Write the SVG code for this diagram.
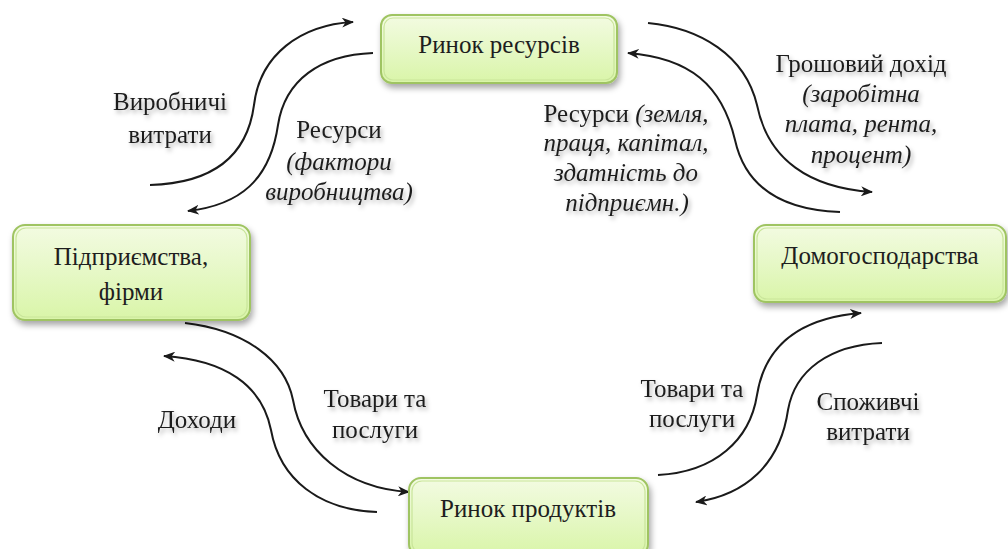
<svg xmlns="http://www.w3.org/2000/svg" width="1008" height="549" viewBox="0 0 1008 549" font-family="Liberation Serif, Times New Roman, Times, DejaVu Serif, serif">
<defs>
<linearGradient id="g" x1="0" y1="0" x2="0" y2="1">
<stop offset="0" stop-color="#f3fbe2"/>
<stop offset="0.5" stop-color="#e6f8c6"/>
<stop offset="1" stop-color="#d9f5a8"/>
</linearGradient>
<filter id="bs" x="-10%" y="-20%" width="125%" height="150%">
<feDropShadow dx="2" dy="4" stdDeviation="3" flood-color="#000" flood-opacity="0.35"/>
</filter>
<filter id="ts" x="-10%" y="-30%" width="125%" height="170%">
<feDropShadow dx="2" dy="3" stdDeviation="2" flood-color="#000" flood-opacity="0.3"/>
</filter>
<marker id="ah" viewBox="0 0 12 10" refX="11" refY="5" markerWidth="12" markerHeight="10" markerUnits="userSpaceOnUse" orient="auto">
<path d="M0,0 L12,5 L0,10 L3.5,5 z" fill="#1a1a1a"/>
</marker>
</defs>
<style>
.box{fill:url(#g);stroke:#9fc462;stroke-width:2;filter:url(#bs)}
.inner{fill:none;stroke:#c9e59a;stroke-width:1.2}
text{font-size:25px;fill:#1e1e1e;text-anchor:middle}
.lbl{filter:url(#ts)}
.i{font-style:italic}
.c{fill:none;stroke:#1a1a1a;stroke-width:2;marker-end:url(#ah)}
</style>
<g id="connectors">
<path class="c" d="M150,185 C220,183 248,150 254,105 C260,55 300,25 353,22"/>
<path class="c" d="M373,53 C320,55 285,80 278,125 C270,180 240,205 188,211"/>
<path class="c" d="M648,23 C700,28 745,55 757,105 C768,160 810,188 872,192"/>
<path class="c" d="M840,212 C780,210 745,185 735,140 C722,85 690,58 628,53"/>
<path class="c" d="M185,323 C245,330 285,360 293,400 C302,450 345,488 409,492"/>
<path class="c" d="M377,512 C320,510 280,480 271,430 C262,385 225,360 164,356"/>
<path class="c" d="M658,475 C715,472 750,440 757,395 C765,345 800,318 861,313"/>
<path class="c" d="M882,343 C830,345 795,370 788,410 C780,465 745,495 696,502"/>
</g>
<g id="n-resources">
<rect class="box" x="381" y="15" width="236" height="68" rx="11"/>
<rect class="inner" x="384" y="18" width="230" height="62" rx="9"/>
<text x="499" y="53">Ринок ресурсів</text>
</g>
<g id="n-firms">
<rect class="box" x="13" y="225" width="237" height="95" rx="12"/>
<rect class="inner" x="16" y="228" width="231" height="89" rx="10"/>
<text x="131" y="265">Підприємства,</text>
<text x="131" y="300">фірми</text>
</g>
<g id="n-households">
<rect class="box" x="754" y="225" width="252" height="77" rx="12"/>
<rect class="inner" x="757" y="228" width="246" height="71" rx="10"/>
<text x="880" y="264">Домогосподарства</text>
</g>
<g id="n-products">
<rect class="box" x="409" y="478" width="239" height="78" rx="12"/>
<rect class="inner" x="412" y="481" width="233" height="72" rx="10"/>
<text x="528" y="517">Ринок продуктів</text>
</g>
<g id="labels">
<text class="lbl" x="170" y="110">Виробничі</text>
<text class="lbl" x="170" y="143">витрати</text>
<text class="lbl" x="339" y="138">Ресурси</text>
<text class="lbl i" x="339" y="170">(фактори</text>
<text class="lbl i" x="339" y="200">виробництва)</text>
<text class="lbl" x="626" y="122">Ресурси <tspan class="i">(земля,</tspan></text>
<text class="lbl i" x="626" y="151">праця, капітал,</text>
<text class="lbl i" x="626" y="181">здатність до</text>
<text class="lbl i" x="627" y="211">підприємн.)</text>
<text class="lbl" x="861" y="72">Грошовий дохід</text>
<text class="lbl i" x="861" y="102">(заробітна</text>
<text class="lbl i" x="861" y="132">плата, рента,</text>
<text class="lbl i" x="861" y="163">процент)</text>
<text class="lbl" x="197" y="428">Доходи</text>
<text class="lbl" x="375" y="407">Товари та</text>
<text class="lbl" x="375" y="438">послуги</text>
<text class="lbl" x="692" y="397">Товари та</text>
<text class="lbl" x="692" y="427">послуги</text>
<text class="lbl" x="868" y="410">Споживчі</text>
<text class="lbl" x="868" y="440">витрати</text>
</g>
</svg>
